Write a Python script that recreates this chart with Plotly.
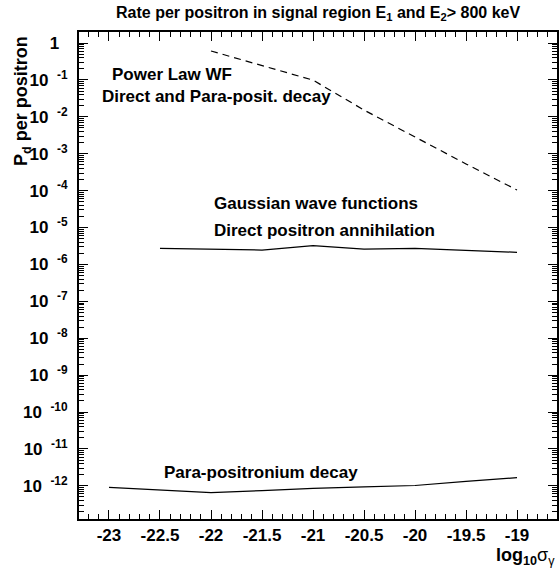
import plotly.graph_objects as go

# ---------------- data ----------------
sigma_pl = [-22.0, -21.5, -21.0, -20.5, -20.0, -19.5, -19.0]
pd_powerlaw = [0.61, 0.24, 0.099, 0.0153, 0.00284, 5.3e-4, 1.04e-4]

sigma_direct = [-22.5, -22.0, -21.5, -21.0, -20.5, -20.0, -19.5, -19.0]
pd_direct = [2.73e-6, 2.56e-6, 2.45e-6, 3.25e-6, 2.61e-6, 2.73e-6, 2.41e-6, 2.13e-6]

sigma_para = [-23.0, -22.5, -22.0, -21.5, -21.0, -20.5, -20.0, -19.5, -19.0]
pd_para = [9.1e-13, 7.8e-13, 6.5e-13, 7.4e-13, 8.5e-13, 9.3e-13, 1.02e-12, 1.32e-12, 1.66e-12]

x_tickvals = [-23, -22.5, -22, -21.5, -21, -20.5, -20, -19.5, -19]
x_ticktext = ["-23", "-22.5", "-22", "-21.5", "-21", "-20.5", "-20", "-19.5", "-19"]
y_exponents = list(range(0, -13, -1))
y_tickvals = [10.0 ** e for e in y_exponents]
y_ticktext = ["1\u2002"] + ["10\u2002<sup>%d</sup>" % e for e in y_exponents[1:]]

title_text = "Rate per positron in signal region E<sub>1</sub> and E<sub>2</sub>> 800 keV"
ytitle_text = "P<sub>d</sub> per positron"
xtitle_text = "<b>log</b><sub><b>10</b></sub>σ<sub>γ</sub>"

labels = [
    ("Power Law WF", -22.99, -0.84),
    ("Direct and Para-posit. decay", -23.09, -1.46),
    ("Gaussian wave functions", -21.99, -4.34),
    ("Direct positron annihilation", -21.99, -5.09),
    ("Para-positronium decay", -22.48, -11.64),
]

FONT = "Liberation Sans, Arial, Helvetica, sans-serif"

fig = go.Figure()
fig.add_trace(go.Scatter(x=sigma_pl, y=pd_powerlaw, mode="lines",
                         line=dict(color="black", width=1.2, dash="7px,5px"),
                         showlegend=False))
fig.add_trace(go.Scatter(x=sigma_direct, y=pd_direct, mode="lines",
                         line=dict(color="black", width=1.2), showlegend=False))
fig.add_trace(go.Scatter(x=sigma_para, y=pd_para, mode="lines",
                         line=dict(color="black", width=1.2), showlegend=False))

annotations = []
for txt, xx, yy in labels:
    annotations.append(dict(text=txt, x=xx, y=yy, xref="x", yref="y",
                            xanchor="left", yanchor="middle", showarrow=False,
                            font=dict(family=FONT, size=17, color="black", weight="bold")))
annotations.append(dict(text=title_text, x=0.5, y=1 + 19 / 487, xref="paper", yref="paper",
                        xanchor="center", yanchor="middle", showarrow=False,
                        font=dict(family=FONT, size=16, color="black", weight="bold")))
annotations.append(dict(text=ytitle_text, x=-57 / 478, y=1 - 69 / 487, xref="paper", yref="paper",
                        xanchor="center", yanchor="middle", showarrow=False, textangle=-90,
                        font=dict(family=FONT, size=18, color="black", weight="bold")))
annotations.append(dict(text=xtitle_text, x=1.0, y=-37 / 487, xref="paper", yref="paper",
                        xanchor="right", yanchor="middle", showarrow=False,
                        font=dict(family=FONT, size=18, color="black")))

fig.update_layout(
    template="none",
    width=559, height=572, autosize=False,
    margin=dict(l=79, r=2, t=32, b=53, pad=0),
    paper_bgcolor="white", plot_bgcolor="white",
    annotations=annotations,
    xaxis=dict(range=[-23.294, -18.608], tickmode="array", tickvals=x_tickvals, ticktext=x_ticktext,
               automargin=False,
               ticks="inside", ticklen=9, tickwidth=1, tickcolor="black",
               showline=True, linecolor="black", linewidth=2, mirror="ticks",
               showgrid=False, zeroline=False, ticklabelstandoff=0,
               tickfont=dict(family=FONT, size=17, color="black", weight="bold"),
               minor=dict(dtick=0.1, tick0=-23, ticks="inside", ticklen=5, tickcolor="black",
                          tickwidth=1, showgrid=False)),
    yaxis=dict(type="log", range=[-12.9, 0.3], tickmode="array", tickvals=y_tickvals, ticktext=y_ticktext,
               automargin=False,
               ticks="inside", ticklen=9, tickwidth=1, tickcolor="black",
               showline=True, linecolor="black", linewidth=2, mirror="ticks",
               showgrid=False, zeroline=False, ticklabelstandoff=6,
               tickfont=dict(family=FONT, size=17, color="black", weight="bold"),
               minor=dict(dtick="D1", ticks="inside", ticklen=5, tickcolor="black",
                          tickwidth=1, showgrid=False)),
)

fig.write_html("out.html", config={"displayModeBar": False},
               post_script="document.body.style.margin='0';document.body.style.overflow='hidden';")
